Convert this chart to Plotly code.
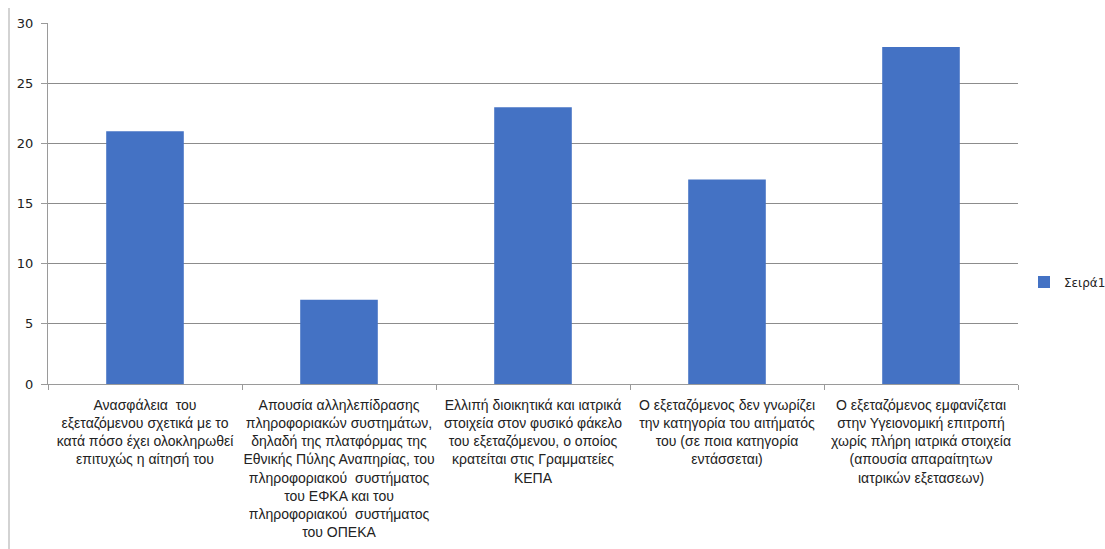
import plotly.graph_objects as go

# Category labels (wrapped as they appear under each bar)
categories = [
    "Ανασφάλεια  του<br>εξεταζόμενου σχετικά με το<br>κατά πόσο έχει ολοκληρωθεί<br>επιτυχώς η αίτησή του",
    "Απουσία αλληλεπίδρασης<br>πληροφοριακών συστημάτων,<br>δηλαδή της πλατφόρμας της<br>Εθνικής Πύλης Αναπηρίας, του<br>πληροφοριακού  συστήματος<br>του ΕΦΚΑ και του<br>πληροφοριακού  συστήματος<br>του ΟΠΕΚΑ",
    "Ελλιπή διοικητικά και ιατρικά<br>στοιχεία στον φυσικό φάκελο<br>του εξεταζόμενου, ο οποίος<br>κρατείται στις Γραμματείες<br>ΚΕΠΑ",
    "Ο εξεταζόμενος δεν γνωρίζει<br>την κατηγορία του αιτήματός<br>του (σε ποια κατηγορία<br>εντάσσεται)",
    "Ο εξεταζόμενος εμφανίζεται<br>στην Υγειονομική επιτροπή<br>χωρίς πλήρη ιατρικά στοιχεία<br>(απουσία απαραίτητων<br>ιατρικών εξετασεων)",
]
values = [21, 7, 23, 17, 28]
series_name = "Σειρά1"
y_ticks = [0, 5, 10, 15, 20, 25, 30]

W, H = 1105, 549
ml, mr, mt, mb = 48, 87, 23, 165
pw = W - ml - mr

fig = go.Figure(
    go.Bar(
        x=categories,
        y=values,
        name=series_name,
        marker=dict(color="#4472C4", line=dict(width=0)),
        width=0.4,
        showlegend=True,
    )
)

fig.update_layout(
    width=W,
    height=H,
    margin=dict(l=ml, r=mr, t=mt, b=mb, pad=0, autoexpand=False),
    paper_bgcolor="white",
    plot_bgcolor="white",
    font=dict(family="Liberation Sans, Arial, sans-serif", size=14, color="#222222"),
    xaxis=dict(
        tickangle=0,
        showline=True,
        linecolor="#9a9a9a",
        linewidth=1,
        ticks="outside",
        tickson="boundaries",
        ticklen=5,
        tickcolor="#9a9a9a",
        showgrid=False,
        ticklabelstandoff=8,
        tickfont=dict(size=14, color="#222222"),
        automargin=False,
    ),
    yaxis=dict(
        range=[0, 30],
        tickvals=y_ticks,
        showline=True,
        linecolor="#9a9a9a",
        linewidth=1,
        ticks="outside",
        ticklen=6,
        tickcolor="#9a9a9a",
        gridcolor="#8c8c8c",
        gridwidth=1,
        zeroline=False,
        ticklabelstandoff=5,
        tickfont=dict(family="DejaVu Sans, sans-serif", size=13, color="#222222"),
        automargin=False,
    ),
    legend=dict(
        xref="container",
        yref="container",
        x=1024 / W,
        y=1 - 282 / H,
        xanchor="left",
        yanchor="middle",
        font=dict(size=12, family="DejaVu Sans, sans-serif"),
        itemwidth=30,
        bgcolor="rgba(0,0,0,0)",
    ),
    shapes=[
        dict(
            type="line",
            xref="paper",
            yref="paper",
            x0=(9 - ml) / pw,
            x1=(9 - ml) / pw,
            y0=(H - mb - 8) / (H - mt - mb),
            y1=(H - mb - H) / (H - mt - mb),
            line=dict(color="#c4c4c4", width=1.5),
        )
    ],
)

fig.write_html("out.html")
